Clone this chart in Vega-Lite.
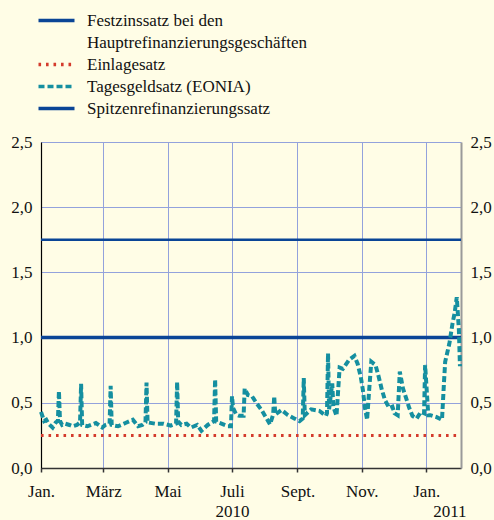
{
  "$schema": "https://vega.github.io/schema/vega-lite/v6.json",
  "width": 420,
  "height": 326,
  "autosize": {"type": "none"},
  "padding": {"left": 41, "top": 142, "right": 33, "bottom": 52},
  "background": "#fffde6",
  "config": {
    "view": {"stroke": null},
    "font": "'Liberation Serif', 'Times New Roman', Times, serif",
    "axis": {"labelFont": "'Liberation Serif', 'Times New Roman', Times, serif", "labelFontSize": 17, "labelColor": "#111111", "title": null},
    "legend": {
      "orient": "none",
      "legendX": 7,
      "legendY": -130,
      "padding": 0,
      "rowPadding": 4,
      "symbolType": "M-3.6,0H3.6",
      "symbolSize": 100,
      "symbolStrokeWidth": 3.5,
      "labelOffset": 22,
      "labelFont": "'Liberation Serif', 'Times New Roman', Times, serif",
      "labelFontSize": 17,
      "labelColor": "#111111",
      "labelLimit": 400
    }
  },
  "datasets": {
    "rates": [
      {"date": "2010-01-01", "series": "Festzinssatz bei den", "value": 1.0},
      {"date": "2011-02-03", "series": "Festzinssatz bei den", "value": 1.0},
      {"date": "2010-01-01", "series": "Einlagesatz", "value": 0.25},
      {"date": "2011-02-03", "series": "Einlagesatz", "value": 0.25},
      {"date": "2010-01-01", "series": "Spitzenrefinanzierungssatz", "value": 1.75},
      {"date": "2011-02-03", "series": "Spitzenrefinanzierungssatz", "value": 1.75}
    ],
    "eonia": [
      {"date": "2010-01-01", "value": 0.43},
      {"date": "2010-01-04", "value": 0.36},
      {"date": "2010-01-06", "value": 0.37},
      {"date": "2010-01-08", "value": 0.34},
      {"date": "2010-01-12", "value": 0.31},
      {"date": "2010-01-15", "value": 0.35},
      {"date": "2010-01-17", "value": 0.36},
      {"date": "2010-01-18", "value": 0.59},
      {"date": "2010-01-19", "value": 0.36},
      {"date": "2010-01-21", "value": 0.33},
      {"date": "2010-01-24", "value": 0.34},
      {"date": "2010-01-28", "value": 0.33},
      {"date": "2010-01-31", "value": 0.32},
      {"date": "2010-02-04", "value": 0.33},
      {"date": "2010-02-07", "value": 0.35},
      {"date": "2010-02-08", "value": 0.645},
      {"date": "2010-02-09", "value": 0.33},
      {"date": "2010-02-14", "value": 0.32},
      {"date": "2010-02-22", "value": 0.345},
      {"date": "2010-02-28", "value": 0.31},
      {"date": "2010-03-03", "value": 0.33},
      {"date": "2010-03-07", "value": 0.34},
      {"date": "2010-03-08", "value": 0.63},
      {"date": "2010-03-09", "value": 0.33},
      {"date": "2010-03-15", "value": 0.32},
      {"date": "2010-03-22", "value": 0.345},
      {"date": "2010-03-29", "value": 0.37},
      {"date": "2010-04-03", "value": 0.32},
      {"date": "2010-04-07", "value": 0.33},
      {"date": "2010-04-10", "value": 0.35},
      {"date": "2010-04-11", "value": 0.655},
      {"date": "2010-04-12", "value": 0.35},
      {"date": "2010-04-19", "value": 0.34},
      {"date": "2010-04-27", "value": 0.34},
      {"date": "2010-05-04", "value": 0.325},
      {"date": "2010-05-09", "value": 0.34},
      {"date": "2010-05-10", "value": 0.66},
      {"date": "2010-05-11", "value": 0.355},
      {"date": "2010-05-14", "value": 0.33},
      {"date": "2010-05-19", "value": 0.34},
      {"date": "2010-05-23", "value": 0.31},
      {"date": "2010-05-29", "value": 0.33},
      {"date": "2010-06-02", "value": 0.285},
      {"date": "2010-06-08", "value": 0.33},
      {"date": "2010-06-12", "value": 0.35},
      {"date": "2010-06-14", "value": 0.36},
      {"date": "2010-06-15", "value": 0.68},
      {"date": "2010-06-16", "value": 0.355},
      {"date": "2010-06-21", "value": 0.34},
      {"date": "2010-06-27", "value": 0.32},
      {"date": "2010-06-30", "value": 0.32},
      {"date": "2010-07-01", "value": 0.55},
      {"date": "2010-07-02", "value": 0.46},
      {"date": "2010-07-05", "value": 0.41},
      {"date": "2010-07-08", "value": 0.40},
      {"date": "2010-07-12", "value": 0.40},
      {"date": "2010-07-13", "value": 0.61},
      {"date": "2010-07-16", "value": 0.56},
      {"date": "2010-07-20", "value": 0.55},
      {"date": "2010-07-24", "value": 0.50},
      {"date": "2010-07-29", "value": 0.445},
      {"date": "2010-08-02", "value": 0.39},
      {"date": "2010-08-06", "value": 0.335},
      {"date": "2010-08-09", "value": 0.41},
      {"date": "2010-08-10", "value": 0.55},
      {"date": "2010-08-11", "value": 0.41},
      {"date": "2010-08-17", "value": 0.445},
      {"date": "2010-08-23", "value": 0.405},
      {"date": "2010-08-29", "value": 0.38},
      {"date": "2010-09-03", "value": 0.36},
      {"date": "2010-09-06", "value": 0.38},
      {"date": "2010-09-07", "value": 0.69},
      {"date": "2010-09-08", "value": 0.405},
      {"date": "2010-09-14", "value": 0.45},
      {"date": "2010-09-22", "value": 0.437},
      {"date": "2010-09-28", "value": 0.40},
      {"date": "2010-09-29", "value": 0.42},
      {"date": "2010-09-30", "value": 0.88},
      {"date": "2010-10-01", "value": 0.45},
      {"date": "2010-10-04", "value": 0.65},
      {"date": "2010-10-05", "value": 0.47},
      {"date": "2010-10-08", "value": 0.40},
      {"date": "2010-10-11", "value": 0.77},
      {"date": "2010-10-14", "value": 0.76},
      {"date": "2010-10-20", "value": 0.83},
      {"date": "2010-10-25", "value": 0.86},
      {"date": "2010-10-28", "value": 0.80},
      {"date": "2010-10-31", "value": 0.70},
      {"date": "2010-11-02", "value": 0.60},
      {"date": "2010-11-04", "value": 0.46},
      {"date": "2010-11-06", "value": 0.37},
      {"date": "2010-11-08", "value": 0.60},
      {"date": "2010-11-10", "value": 0.815},
      {"date": "2010-11-14", "value": 0.79},
      {"date": "2010-11-17", "value": 0.70},
      {"date": "2010-11-20", "value": 0.60},
      {"date": "2010-11-23", "value": 0.52},
      {"date": "2010-11-27", "value": 0.46},
      {"date": "2010-11-30", "value": 0.47},
      {"date": "2010-12-02", "value": 0.42},
      {"date": "2010-12-05", "value": 0.405},
      {"date": "2010-12-07", "value": 0.74},
      {"date": "2010-12-10", "value": 0.61},
      {"date": "2010-12-13", "value": 0.535},
      {"date": "2010-12-16", "value": 0.46},
      {"date": "2010-12-19", "value": 0.40},
      {"date": "2010-12-23", "value": 0.38},
      {"date": "2010-12-27", "value": 0.43},
      {"date": "2010-12-30", "value": 0.42},
      {"date": "2010-12-31", "value": 0.79},
      {"date": "2011-01-03", "value": 0.405},
      {"date": "2011-01-05", "value": 0.405},
      {"date": "2011-01-11", "value": 0.39},
      {"date": "2011-01-16", "value": 0.37},
      {"date": "2011-01-18", "value": 0.675},
      {"date": "2011-01-19", "value": 0.815},
      {"date": "2011-01-23", "value": 0.955},
      {"date": "2011-01-26", "value": 1.11},
      {"date": "2011-01-28", "value": 1.19},
      {"date": "2011-01-30", "value": 1.31},
      {"date": "2011-02-01", "value": 1.06},
      {"date": "2011-02-02", "value": 0.78}
    ]
  },
  "layer": [
    {
      "data": {"name": "rates"},
      "transform": [{"filter": "datum.series == 'Festzinssatz bei den'"}],
      "mark": {"type": "line", "strokeWidth": 3.5},
      "encoding": {
        "x": {
          "field": "date", "type": "temporal",
          "scale": {"type": "utc", "domain": [{"year": 2010, "month": 1, "date": 1, "utc": true}, {"year": 2011, "month": 2, "date": 3, "utc": true}]},
          "axis": {
            "orient": "bottom",
            "values": [
              {"year": 2010, "month": 1, "date": 1, "utc": true},
              {"year": 2010, "month": 3, "date": 1, "utc": true},
              {"year": 2010, "month": 5, "date": 1, "utc": true},
              {"year": 2010, "month": 7, "date": 1, "utc": true},
              {"year": 2010, "month": 9, "date": 1, "utc": true},
              {"year": 2010, "month": 11, "date": 1, "utc": true},
              {"year": 2011, "month": 1, "date": 1, "utc": true}
            ],
            "labelExpr": "['Jan.','Feb.','März','Apr.','Mai','Juni','Juli','Aug.','Sept.','Okt.','Nov.','Dez.'][utcmonth(datum.value)]",
            "grid": true, "gridColor": "#93a2dc", "gridWidth": 1,
            "domainColor": "#333333", "domainWidth": 1.5,
            "tickColor": "#333333", "tickSize": 4, "tickWidth": 1.5,
            "labelPadding": 11, "labelAlign": "center", "labelOverlap": false
          }
        },
        "y": {
          "field": "value", "type": "quantitative",
          "scale": {"domain": [0, 2.5], "nice": false, "zero": true},
          "axis": {
            "orient": "left",
            "values": [0, 0.5, 1, 1.5, 2, 2.5],
            "labelExpr": "replace(format(datum.value, '.1f'), '.', ',')",
            "grid": true, "gridColor": "#93a2dc", "gridWidth": 1,
            "domainColor": "#000000", "domainWidth": 1.2,
            "ticks": false, "labelPadding": 9
          }
        },
        "color": {
          "field": "series", "type": "nominal", "title": null,
          "scale": {
            "domain": ["Festzinssatz bei den", "Hauptrefinanzierungsgeschäften", "Einlagesatz", "Tagesgeldsatz (EONIA)", "Spitzenrefinanzierungssatz"],
            "range": ["#0a4596", "transparent", "#d43b2c", "#158fa0", "#0a4596"]
          }
        },
        "strokeDash": {
          "field": "series", "type": "nominal", "title": null,
          "scale": {
            "domain": ["Festzinssatz bei den", "Hauptrefinanzierungsgeschäften", "Einlagesatz", "Tagesgeldsatz (EONIA)", "Spitzenrefinanzierungssatz"],
            "range": [[1, 0], [1, 0], [2.6, 4.9], [6, 3], [1, 0]]
          }
        }
      }
    },
    {
      "data": {"name": "rates"},
      "transform": [{"filter": "datum.series == 'Einlagesatz'"}],
      "mark": {"type": "line", "strokeWidth": 3},
      "encoding": {
        "x": {"field": "date", "type": "temporal", "axis": null},
        "y": {"field": "value", "type": "quantitative", "axis": null},
        "color": {"field": "series", "type": "nominal", "title": null},
        "strokeDash": {"field": "series", "type": "nominal", "title": null}
      }
    },
    {
      "data": {"name": "rates"},
      "transform": [{"filter": "datum.series == 'Spitzenrefinanzierungssatz'"}],
      "mark": {"type": "line", "strokeWidth": 2.5},
      "encoding": {
        "x": {"field": "date", "type": "temporal", "axis": null},
        "y": {"field": "value", "type": "quantitative", "axis": null},
        "color": {"field": "series", "type": "nominal", "title": null},
        "strokeDash": {"field": "series", "type": "nominal", "title": null}
      }
    },
    {
      "data": {"name": "eonia"},
      "mark": {"type": "line", "strokeWidth": 4, "color": "#158fa0", "strokeDash": [5, 2.5]},
      "encoding": {
        "x": {
          "field": "date", "type": "temporal",
          "axis": {
            "orient": "bottom",
            "values": [
              {"year": 2010, "month": 7, "date": 1, "utc": true},
              {"year": 2011, "month": 1, "date": 23, "utc": true}
            ],
            "labelExpr": "'' + utcyear(datum.value)",
            "domain": false, "ticks": false, "grid": false, "offset": 33,
            "labelPadding": 2, "labelAlign": "center", "labelOverlap": false
          }
        },
        "y": {
          "field": "value", "type": "quantitative",
          "axis": {
            "orient": "right",
            "values": [0, 0.5, 1, 1.5, 2, 2.5],
            "labelExpr": "replace(format(datum.value, '.1f'), '.', ',')",
            "grid": false,
            "domainColor": "#9a9a9a", "domainWidth": 2,
            "ticks": false, "labelPadding": 9, "labelAlign": "left"
          }
        },
        "color": {"datum": "Tagesgeldsatz (EONIA)", "type": "nominal", "title": null},
        "strokeDash": {"datum": "Tagesgeldsatz (EONIA)", "type": "nominal", "title": null}
      }
    }
  ],
  "resolve": {"axis": {"x": "independent", "y": "independent"}}
}
